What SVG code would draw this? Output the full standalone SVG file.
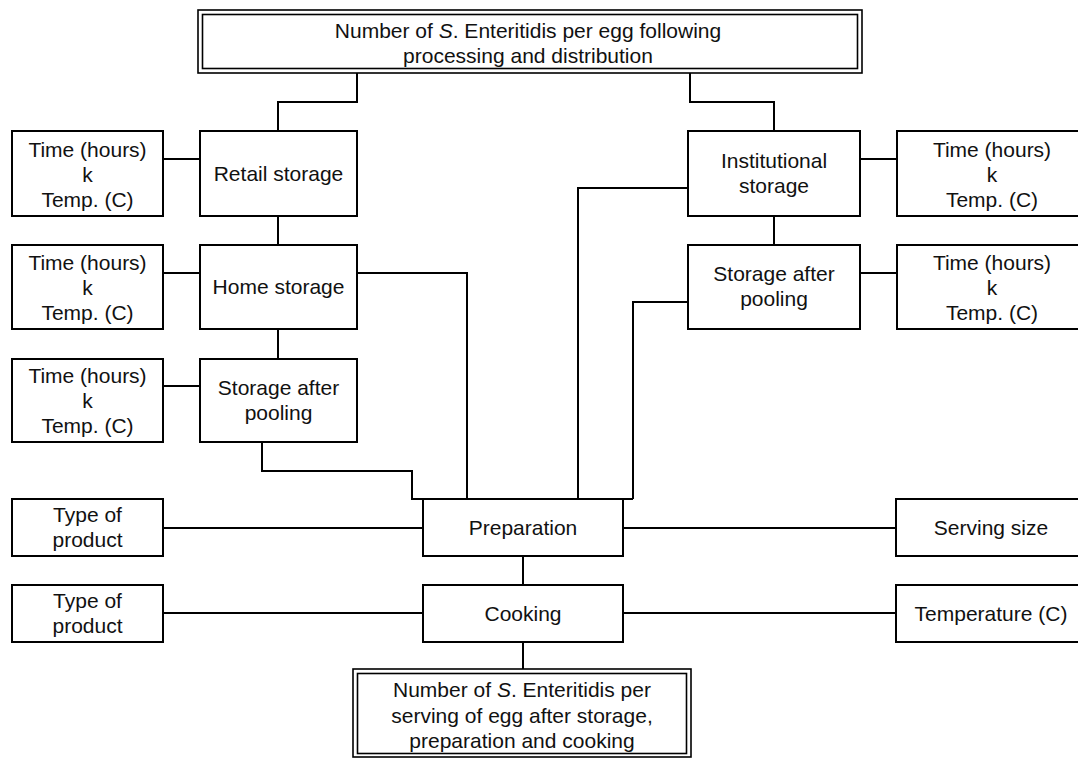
<svg xmlns="http://www.w3.org/2000/svg" width="1078" height="758" viewBox="0 0 1078 758">
<style>
.b{fill:#fff;stroke:#000;stroke-width:2}
.d{fill:none;stroke:#000;stroke-width:1.6}
.c{fill:none;stroke:#000;stroke-width:2}
text{font-family:"Liberation Sans",Arial,sans-serif;font-size:21px;fill:#111;text-anchor:middle}
.i{font-style:italic}
</style>
<rect width="1078" height="758" fill="#fff"/>
<g id="connectors">
<path class="c" d="M357,73 V102 H278 V131"/>
<path class="c" d="M690,73 V102 H774 V131"/>
<path class="c" d="M163,159 H200"/>
<path class="c" d="M278,216 V245"/>
<path class="c" d="M163,273 H200"/>
<path class="c" d="M278,329 V359"/>
<path class="c" d="M163,386 H200"/>
<path class="c" d="M357,273 H467 V499"/>
<path class="c" d="M262,442 V471 H412 V499 H633"/>
<path class="c" d="M688,188 H578 V499"/>
<path class="c" d="M688,302 H633 V499"/>
<path class="c" d="M860,159 H897"/>
<path class="c" d="M774,216 V245"/>
<path class="c" d="M860,273 H897"/>
<path class="c" d="M163,528 H423"/>
<path class="c" d="M623,528 H896"/>
<path class="c" d="M523,556 V585"/>
<path class="c" d="M163,613 H423"/>
<path class="c" d="M623,613 H896"/>
<path class="c" d="M523,642 V669"/>
</g>
<g id="top">
<rect class="d" x="198" y="10" width="664" height="63"/>
<rect class="d" x="202.5" y="14.5" width="655" height="54"/>
<text x="528" y="38">Number of <tspan class="i">S</tspan>. Enteritidis per egg following</text>
<text x="528" y="63">processing and distribution</text>
</g>
<g id="retail">
<rect class="b" x="200" y="131" width="157" height="85"/>
<text x="278.5" y="181">Retail storage</text>
</g>
<g id="retail-params">
<rect class="b" x="12" y="131" width="151" height="85"/>
<text x="87.5" y="157">Time (hours)</text>
<text x="87.5" y="182">k</text>
<text x="87.5" y="207">Temp. (C)</text>
</g>
<g id="home">
<rect class="b" x="200" y="245" width="157" height="84"/>
<text x="278.5" y="294">Home storage</text>
</g>
<g id="home-params">
<rect class="b" x="12" y="245" width="151" height="84"/>
<text x="87.5" y="270">Time (hours)</text>
<text x="87.5" y="295">k</text>
<text x="87.5" y="320">Temp. (C)</text>
</g>
<g id="home-pool">
<rect class="b" x="200" y="359" width="157" height="83"/>
<text x="278.5" y="395">Storage after</text>
<text x="278.5" y="420">pooling</text>
</g>
<g id="home-pool-params">
<rect class="b" x="12" y="359" width="151" height="83"/>
<text x="87.5" y="383">Time (hours)</text>
<text x="87.5" y="408">k</text>
<text x="87.5" y="433">Temp. (C)</text>
</g>
<g id="institutional">
<rect class="b" x="688" y="131" width="172" height="85"/>
<text x="774" y="168">Institutional</text>
<text x="774" y="193">storage</text>
</g>
<g id="inst-params">
<rect class="b" x="897" y="131" width="190" height="85"/>
<text x="992" y="157">Time (hours)</text>
<text x="992" y="182">k</text>
<text x="992" y="207">Temp. (C)</text>
</g>
<g id="inst-pool">
<rect class="b" x="688" y="245" width="172" height="84"/>
<text x="774" y="281">Storage after</text>
<text x="774" y="306">pooling</text>
</g>
<g id="inst-pool-params">
<rect class="b" x="897" y="245" width="190" height="84"/>
<text x="992" y="270">Time (hours)</text>
<text x="992" y="295">k</text>
<text x="992" y="320">Temp. (C)</text>
</g>
<g id="preparation">
<rect class="b" x="423" y="499" width="200" height="57"/>
<text x="523" y="535">Preparation</text>
</g>
<g id="prep-type">
<rect class="b" x="12" y="499" width="151" height="57"/>
<text x="87.5" y="522">Type of</text>
<text x="87.5" y="547">product</text>
</g>
<g id="serving">
<rect class="b" x="896" y="499" width="191" height="57"/>
<text x="991" y="535">Serving size</text>
</g>
<g id="cooking">
<rect class="b" x="423" y="585" width="200" height="57"/>
<text x="523" y="621">Cooking</text>
</g>
<g id="cook-type">
<rect class="b" x="12" y="585" width="151" height="57"/>
<text x="87.5" y="608">Type of</text>
<text x="87.5" y="633">product</text>
</g>
<g id="temperature">
<rect class="b" x="896" y="585" width="191" height="57"/>
<text x="991" y="621">Temperature (C)</text>
</g>
<g id="result">
<rect class="d" x="353" y="669" width="338" height="88"/>
<rect class="d" x="357.5" y="673.5" width="329" height="80"/>
<text x="522" y="697">Number of <tspan class="i">S</tspan>. Enteritidis per</text>
<text x="522" y="723">serving of egg after storage,</text>
<text x="522" y="748">preparation and cooking</text>
</g>
</svg>
